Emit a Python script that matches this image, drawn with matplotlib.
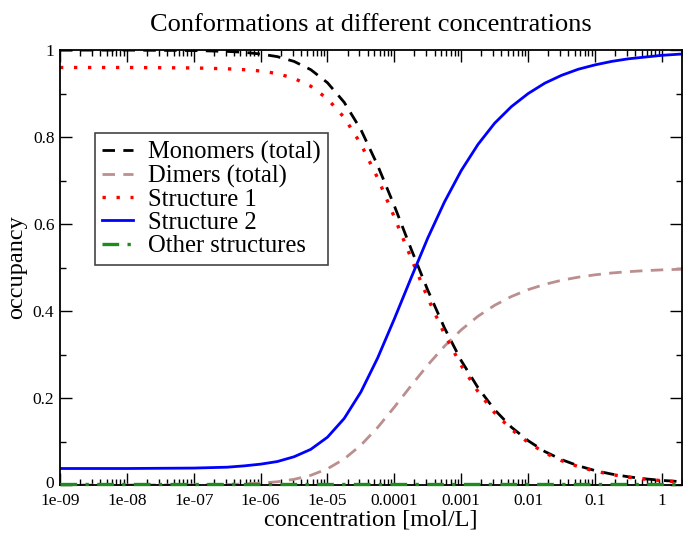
import numpy as np
import matplotlib
matplotlib.use('Agg')
import matplotlib.pyplot as plt
from matplotlib.ticker import FixedLocator, FixedFormatter, LogLocator, MultipleLocator, NullFormatter
from matplotlib.transforms import ScaledTranslation

plt.rcParams['font.family'] = ['Liberation Serif', 'DejaVu Serif']

# concentrations (log10 of mol/L) where the curves were read
log_conc = [-9, -8, -7, -6.5, -6.25, -6, -5.75, -5.5, -5.25, -5, -4.75, -4.5, -4.25, -4,
            -3.75, -3.5, -3.25, -3, -2.75, -2.5, -2.25, -2, -1.75, -1.5, -1.25, -1,
            -0.75, -0.5, -0.25, 0, 0.3]

monomers = [1.000, 0.9999, 0.999, 0.997, 0.995, 0.991, 0.985, 0.974, 0.955, 0.925, 0.880,
            0.817, 0.735, 0.642, 0.543, 0.448, 0.361, 0.286, 0.224, 0.173, 0.133, 0.102,
            0.077, 0.0585, 0.0442, 0.0333, 0.0251, 0.0189, 0.0142, 0.0107, 0.0076]
dimers = [0.0, 0.0001, 0.0004, 0.0014, 0.0024, 0.0043, 0.0075, 0.0131, 0.0223, 0.0373,
          0.0599, 0.0917, 0.1323, 0.1791, 0.2283, 0.2760, 0.3193, 0.3568, 0.3880, 0.4133,
          0.4334, 0.4492, 0.4614, 0.4708, 0.4779, 0.4833, 0.4875, 0.4906, 0.4929, 0.4947,
          0.4962]
structure1 = [0.960, 0.960, 0.959, 0.957, 0.955, 0.952, 0.946, 0.935, 0.917, 0.888, 0.845,
              0.784, 0.706, 0.616, 0.522, 0.430, 0.347, 0.275, 0.215, 0.166, 0.128, 0.098,
              0.074, 0.056, 0.0424, 0.032, 0.0241, 0.018, 0.0136, 0.010, 0.007]
structure2 = [0.038, 0.038, 0.039, 0.041, 0.044, 0.048, 0.054, 0.065, 0.082, 0.110, 0.153,
              0.214, 0.292, 0.382, 0.476, 0.568, 0.651, 0.723, 0.783, 0.832, 0.870, 0.900,
              0.924, 0.942, 0.956, 0.966, 0.974, 0.980, 0.984, 0.988, 0.991]
other = [0.003, 0.003, 0.003, 0.003, 0.003, 0.003, 0.003, 0.003, 0.003, 0.003, 0.003,
         0.003, 0.003, 0.003, 0.003, 0.003, 0.003, 0.003, 0.003, 0.003, 0.003, 0.003,
         0.003, 0.003, 0.003, 0.003, 0.003, 0.003, 0.003, 0.003, 0.003]

xtick_pos = [1e-9, 1e-8, 1e-7, 1e-6, 1e-5, 1e-4, 1e-3, 1e-2, 1e-1, 1]
xtick_labels = ['1e-09', '1e-08', '1e-07', '1e-06', '1e-05', '0.0001', '0.001', '0.01', '0.1', '1']
ytick_pos = [0, 0.2, 0.4, 0.6, 0.8, 1]
ytick_labels = ['0', '0.2', '0.4', '0.6', '0.8', '1']

conc = 10.0 ** np.array(log_conc)

fig = plt.figure(figsize=(6.83, 5.33), dpi=100)
ax = fig.add_axes([0.0878, 0.090, 0.9107, 0.816])

lw = 2.0
ax.plot(conc, monomers, color='black', lw=lw, ls=(0, (4.5, 3)), label='Monomers (total)')
ax.plot(conc, dimers, color='#bc8f8f', lw=lw, ls=(0, (4.5, 3)), label='Dimers (total)')
ax.plot(conc, structure1, color='red', lw=2.4, ls=(0, (1, 3.2)), label='Structure 1')
ax.plot(conc, structure2, color='blue', lw=lw, ls='-', label='Structure 2')
ax.plot(conc, other, color='#1f8b1f', lw=2.4, ls=(0, (5, 2.5, 1, 2.5)), label='Other structures',
        zorder=3, clip_on=False)

ax.set_xscale('log')
ax.set_xlim(1e-9, 2)
ax.set_ylim(0, 1)

ax.xaxis.set_major_locator(FixedLocator(xtick_pos))
ax.xaxis.set_major_formatter(FixedFormatter(xtick_labels))
ax.xaxis.set_minor_locator(LogLocator(base=10, subs=np.arange(2, 10), numticks=20))
ax.xaxis.set_minor_formatter(NullFormatter())
ax.yaxis.set_major_locator(FixedLocator(ytick_pos))
ax.yaxis.set_major_formatter(FixedFormatter(ytick_labels))
ax.yaxis.set_minor_locator(MultipleLocator(0.1))

ax.tick_params(which='both', direction='in', top=True, right=True, labelsize=12.5)
ax.tick_params(axis='x', which='both', pad=6)
ax.tick_params(axis='y', which='both', pad=4)
ax.tick_params(which='major', length=8.5, width=1.0)
ax.tick_params(which='minor', length=4.3, width=1.0)
for s in ax.spines.values():
    s.set_linewidth(1.3)

# nudge the y "0" label up a little so it clears "1e-09"
fig.canvas.draw()
lab0 = ax.yaxis.get_majorticklabels()[0]
lab0.set_transform(lab0.get_transform() + ScaledTranslation(0, 2.5 / 72, fig.dpi_scale_trans))

ax.set_title('Conformations at different concentrations', fontsize=19, pad=14)
ax.set_xlabel('concentration [mol/L]', fontsize=17.5, labelpad=0)
ax.set_ylabel('occupancy', fontsize=17.5, labelpad=4)

leg = ax.legend(loc='upper left', bbox_to_anchor=(0.056, 0.809), borderaxespad=0,
                fontsize=17.7, frameon=True, fancybox=False, framealpha=1,
                edgecolor='#444444', handlelength=1.25, handletextpad=0.6,
                labelspacing=0.04, borderpad=0.3)
leg.get_frame().set_linewidth(1.2)

fig.savefig('out.png', dpi=100)
